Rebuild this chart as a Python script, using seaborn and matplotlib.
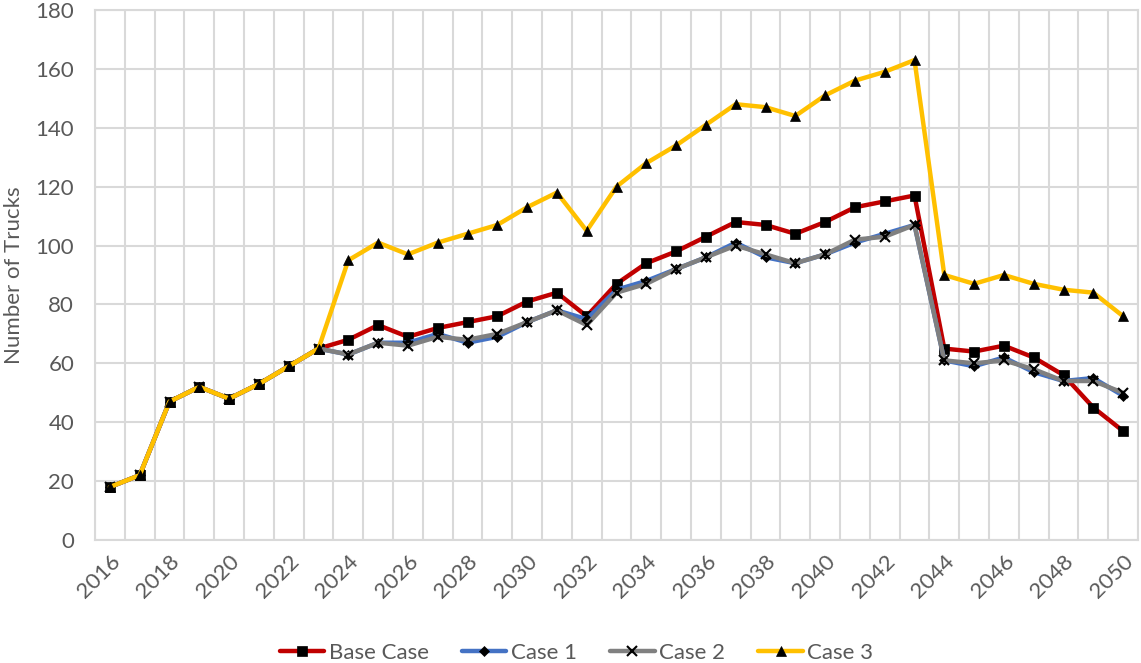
import numpy as np
import pandas as pd
import seaborn as sns
import matplotlib.pyplot as plt
from matplotlib.ticker import MultipleLocator

# Verdier lest av fra figuren
years = list(range(2016, 2051))
base_case = [18, 22, 47, 52, 48, 53, 59, 65, 68, 73, 69, 72, 74, 76, 81, 84, 76, 87,
             94, 98, 103, 108, 107, 104, 108, 113, 115, 117, 65, 64, 66, 62, 56, 45, 37]
case_1 = [18, 22, 47, 52, 48, 53, 59, 65, 63, 67, 67, 70, 67, 69, 74, 78, 75, 85,
          88, 92, 96, 101, 96, 94, 97, 101, 104, 107, 61, 59, 62, 57, 54, 55, 49]
case_2 = [18, 22, 47, 52, 48, 53, 59, 65, 63, 67, 66, 69, 68, 70, 74, 78, 73, 84,
          87, 92, 96, 100, 97, 94, 97, 102, 103, 107, 61, 60, 61, 58, 54, 54, 50]
case_3 = [18, 22, 47, 52, 48, 53, 59, 65, 95, 101, 97, 101, 104, 107, 113, 118, 105, 120,
          128, 134, 141, 148, 147, 144, 151, 156, 159, 163, 90, 87, 90, 87, 85, 84, 76]

series = {"Base Case": base_case, "Case 1": case_1, "Case 2": case_2, "Case 3": case_3}
colors = {"Base Case": "#C00000", "Case 1": "#4472C4", "Case 2": "#808080", "Case 3": "#FFC000"}
markers = {"Base Case": "s", "Case 1": "D", "Case 2": "x", "Case 3": "^"}
msizes = {"Base Case": 7, "Case 1": 5.5, "Case 2": 7, "Case 3": 7.5}

sns.set_style("white")
plt.rcParams['font.family'] = ['Lato', 'DejaVu Sans']

fig = plt.figure(figsize=(11.41, 6.63), dpi=100)
ax = fig.add_axes([95 / 1141, 1 - 540 / 663, (1138 - 95) / 1141, (540 - 10) / 663])

for name, vals in series.items():
    sns.lineplot(x=years, y=vals, ax=ax, color=colors[name], linewidth=3.2,
                 marker=markers[name], markersize=msizes[name], markerfacecolor="black",
                 markeredgecolor="black", markeredgewidth=1.5 if name == "Case 2" else 0.5,
                 label=name)

ax.set_xlim(2015.5, 2050.5)
ax.set_ylim(0, 180)
ax.yaxis.set_major_locator(MultipleLocator(20))
ax.set_xticks(years[::2])
ax.set_xticklabels([str(y) for y in years[::2]], rotation=45, ha="right",
                   rotation_mode="anchor")
ax.xaxis.set_minor_locator(MultipleLocator(1, offset=0.5))

ax.grid(axis="y", which="major", color="#D9D9D9", linewidth=1.5)
ax.grid(axis="x", which="minor", color="#D9D9D9", linewidth=1.5)
ax.set_axisbelow(True)
for s in ax.spines.values():
    s.set_color("#D9D9D9")
    s.set_linewidth(1.5)

ax.tick_params(axis="both", which="both", length=0, labelsize=16, labelcolor="#595959")
ax.tick_params(axis="x", pad=8)
ax.tick_params(axis="y", pad=15)
ax.set_xlabel("")
ax.set_ylabel("Number of Trucks", fontsize=16, color="#595959", labelpad=8)

leg = ax.legend(loc="lower center", bbox_to_anchor=(0.5 - 40 / 1043, -0.27), ncol=4,
                frameon=False, fontsize=16, handlelength=2.0, columnspacing=1.5,
                handletextpad=0.2)
for t in leg.get_texts():
    t.set_color("#595959")

plt.savefig("out.png", dpi=100)
